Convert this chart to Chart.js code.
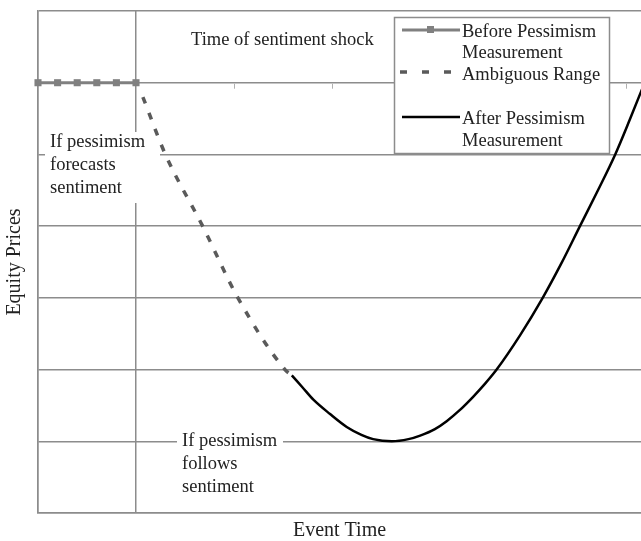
<!DOCTYPE html>
<html>
<head>
<meta charset="utf-8">
<script src="https://cdn.jsdelivr.net/npm/chart.js@4"></script>
<style>
  body { margin: 0; background: #fff; }
  #wrap { width: 641px; height: 541px; }
</style>
</head>
<body>
<div id="wrap"><canvas id="shock" width="641" height="541"></canvas></div>
<script>
// event time (x) and equity price level (y)
const beforeX = [0, 0.2, 0.4, 0.6, 0.8, 1.0];
const beforeY = [6, 6, 6, 6, 6, 6];
const ambigX = [1.07, 1.3, 1.68, 2.04, 2.52, 2.59];
const ambigY = [5.8, 5.0, 4.0, 3.0, 2.0, 1.92];
const afterX = [2.59, 2.7, 2.81, 2.98, 3.15, 3.3, 3.42, 3.61, 3.78, 3.9, 4.05, 4.17, 4.3, 4.44,
                4.56, 4.68, 4.92, 5.15, 5.34, 5.53, 5.71, 5.89, 6.04, 6.19, 6.47];
const afterY = [1.92, 1.75, 1.58, 1.38, 1.2, 1.09, 1.03, 1.0, 1.03, 1.08, 1.17, 1.28, 1.43, 1.62,
                1.8, 2.0, 2.48, 3.0, 3.48, 4.0, 4.49, 5.0, 5.49, 6.0, 7.0];
const xGridValues = [0, 1];
const minorTickValues = [2, 3, 4, 5, 6];
const seriesNames = ['Before Pessimism Measurement', 'Ambiguous Range', 'After Pessimism Measurement'];

const serif = '"Liberation Serif", "Times New Roman", serif';
const gridColor = '#8c8c8c';

function pts(xs, ys) {
  return xs.map((x, i) => ({ x: x, y: ys[i] }));
}

const annotations = {
  id: 'annotations',
  beforeDatasetsDraw(chart) {
    const ctx = chart.ctx;
    const a = chart.chartArea;
    ctx.save();
    ctx.fillStyle = '#fff';
    ctx.fillRect(a.left + 7, 132, 115, 71);
    ctx.fillRect(177, 430, 106, 70);
    // small tick marks along the pre-shock level
    const xs = chart.scales.x, ys = chart.scales.y;
    ctx.strokeStyle = '#b0b0b0';
    ctx.lineWidth = 1;
    minorTickValues.forEach(v => {
      const px = Math.round(xs.getPixelForValue(v)) + 0.5;
      const py = ys.getPixelForValue(6);
      ctx.beginPath();
      ctx.moveTo(px, py + 1);
      ctx.lineTo(px, py + 6);
      ctx.stroke();
    });
    ctx.restore();
  },
  afterDraw(chart) {
    const ctx = chart.ctx;
    const a = chart.chartArea;
    ctx.save();
    ctx.font = '18.5px ' + serif;
    ctx.fillStyle = '#222';
    ctx.textBaseline = 'alphabetic';
    ctx.textAlign = 'left';
    ctx.fillText('Time of sentiment shock', 191, 45);
    ['If pessimism', 'forecasts', 'sentiment'].forEach((t, i) => ctx.fillText(t, a.left + 12, 147 + i * 23));
    ['If pessimism', 'follows', 'sentiment'].forEach((t, i) => ctx.fillText(t, 182, 446 + i * 23));

    // legend box
    const lx = 394, ly = 17, lw = 215, lh = 136;
    ctx.fillStyle = '#fff';
    ctx.fillRect(lx, ly, lw, lh);
    ctx.strokeStyle = '#8c8c8c';
    ctx.lineWidth = 1.5;
    ctx.strokeRect(lx + 0.5, ly + 0.5, lw, lh);

    // samples
    ctx.lineWidth = 3;
    ctx.strokeStyle = '#808080';
    ctx.beginPath(); ctx.moveTo(402, 30); ctx.lineTo(460, 30); ctx.stroke();
    ctx.fillStyle = '#808080';
    ctx.fillRect(427, 26, 7, 7);

    ctx.strokeStyle = '#5a5a5a';
    ctx.lineWidth = 3.5;
    ctx.setLineDash([7, 15]);
    ctx.beginPath(); ctx.moveTo(400, 72); ctx.lineTo(460, 72); ctx.stroke();
    ctx.setLineDash([]);

    ctx.strokeStyle = '#000';
    ctx.lineWidth = 2.5;
    ctx.beginPath(); ctx.moveTo(402, 117); ctx.lineTo(460, 117); ctx.stroke();

    ctx.fillStyle = '#222';
    ctx.fillText('Before Pessimism', 462, 37);
    ctx.fillText('Measurement', 462, 58);
    ctx.fillText('Ambiguous Range', 462, 80);
    ctx.fillText('After Pessimism', 462, 124);
    ctx.fillText('Measurement', 462, 146);
    ctx.restore();
  }
};

new Chart(
  document.getElementById('shock'),
  {
    type: 'line',
    plugins: [annotations],
    options: {
      responsive: false,
      animation: false,
      layout: { autoPadding: false, padding: { top: 11, right: 0, left: 0, bottom: 0 } },
      plugins: {
        legend: { display: false },
        tooltip: { enabled: false }
      },
      scales: {
        x: {
          type: 'linear',
          min: 0,
          max: 6.153,
          afterBuildTicks: (scale) => { scale.ticks = xGridValues.map(v => ({ value: v })); },
          afterFit: (scale) => { scale.height = 28; },
          ticks: { display: false },
          grid: { color: gridColor, lineWidth: 1.5, drawTicks: false },
          border: { color: gridColor, width: 1.5 },
          title: {
            display: true,
            text: 'Event Time',
            color: '#222',
            font: { family: serif, size: 20, lineHeight: 1 },
            padding: 0
          }
        },
        y: {
          min: 0,
          max: 7,
          afterFit: (scale) => { scale.width = 38; },
          ticks: { display: false, stepSize: 1 },
          grid: { color: gridColor, lineWidth: 1.5, drawTicks: false },
          border: { color: gridColor, width: 1.5 },
          title: {
            display: true,
            text: 'Equity Prices',
            color: '#222',
            font: { family: serif, size: 20, lineHeight: 1 },
            padding: { top: 5, bottom: 0 }
          }
        }
      }
    },
    data: {
      datasets: [
        {
          label: seriesNames[0],
          data: pts(beforeX, beforeY),
          borderColor: '#808080',
          backgroundColor: '#808080',
          borderWidth: 3,
          pointStyle: 'rect',
          pointRadius: 5,
          pointBorderWidth: 0,
          clip: false
        },
        {
          label: seriesNames[1],
          data: pts(ambigX, ambigY),
          borderColor: '#5a5a5a',
          borderWidth: 3.5,
          borderDash: [7, 10],
          pointRadius: 0,
          cubicInterpolationMode: 'monotone'
        },
        {
          label: seriesNames[2],
          data: pts(afterX, afterY),
          borderColor: '#000',
          borderWidth: 2.5,
          pointRadius: 0,
          cubicInterpolationMode: 'monotone'
        }
      ]
    }
  }
);
</script>
</body>
</html>
